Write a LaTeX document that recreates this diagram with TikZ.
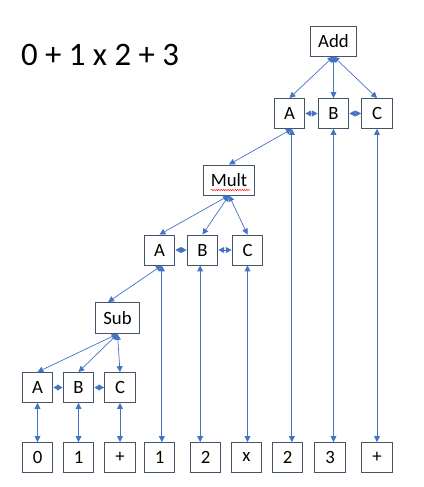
\documentclass[tikz,border=0pt]{standalone}
\usepackage{fontspec}
\setmainfont{Carlito}
\usetikzlibrary{arrows.meta,decorations.pathmorphing}
\definecolor{linkblue}{HTML}{4472C4}
\definecolor{boxgray}{HTML}{44546A}
\tikzset{box/.style = {draw=boxgray, line width=0.8pt, fill=white, inner sep=0,
                        minimum width=0.92cm, minimum height=0.9cm, font=\fontsize{16}{18}\selectfont}}
\tikzset{link/.style = {draw=linkblue, line width=0.6pt, {Triangle[width=5pt,length=5pt]}-{Triangle[width=5pt,length=5pt]}}}

\begin{document}
\begin{tikzpicture}[x=0.03cm, y=-0.03cm]
    \useasboundingbox (0,0) rectangle (423,487);
    \node at (100,55) {\fontsize{28}{32}\selectfont 0 + 1 x 2 + 3};

    % Add level
    \node [box, minimum width=1.4cm] (add) at (333.5,41) {Add};
    \node [box] (addA) at (289.5,113.5) {A};
    \node [box] (addB) at (333.5,113.5) {B};
    \node [box] (addC) at (377,113.5) {C};

    % Mult level
    \node [box, minimum width=1.55cm] (mult) at (229,180) {Mult};
    \draw [red, line width=0.4pt, decorate, decoration={snake, amplitude=0.5pt, segment length=2pt}]
        (211,190) -- (250,190);
    \node [box] (multA) at (159.5,250) {A};
    \node [box] (multB) at (202.5,250) {B};
    \node [box] (multC) at (247.5,250) {C};

    % Sub level
    \node [box, minimum width=1.3cm, minimum height=0.93cm] (sub) at (117.5,318) {Sub};
    \node [box] (subA) at (37.5,387.5) {A};
    \node [box] (subB) at (78.5,387.5) {B};
    \node [box] (subC) at (120,387.5) {C};

    % tokens
    \foreach \name/\x/\txt in {t1/37.5/0, t2/78.5/1, t3/120/+, t4/159.5/1, t5/205.5/2,
                               t6/246.5/x, t7/287.5/2, t8/330/3, t9/377/+}
        \node [box] (\name) at (\x,457.5) {\txt};

    % tree links
    \foreach \p in {add, mult, sub} {
        \foreach \c in {A, B, C}
            \draw [link] (\p.south) -- (\p\c.north);
        \draw [link] (\p A.east) -- (\p B.west);
        \draw [link] (\p B.east) -- (\p C.west);
    }
    \draw [link] ([xshift=2pt]addA.south) -- (mult.north);
    \draw [link] ([xshift=2pt]multA.south) -- ([xshift=-8pt]sub.north);

    % token links
    \draw [link] (subA.south) -- (t1.north);
    \draw [link] (subB.south) -- (t2.north);
    \draw [link] (subC.south) -- (t3.north);
    \draw [link] ([xshift=2pt]multA.south) -- ([xshift=2pt]multA.south |- t4.north);
    \draw [link] ([xshift=-2pt]multB.south) -- ([xshift=-2pt]multB.south |- t5.north);
    \draw [link] (multC.south) -- (multC.south |- t6.north);
    \draw [link] ([xshift=2pt]addA.south) -- ([xshift=2pt]addA.south |- t7.north);
    \draw [link] (addB.south) -- (addB.south |- t8.north);
    \draw [link] (addC.south) -- (addC.south |- t9.north);
\end{tikzpicture}
\end{document}
